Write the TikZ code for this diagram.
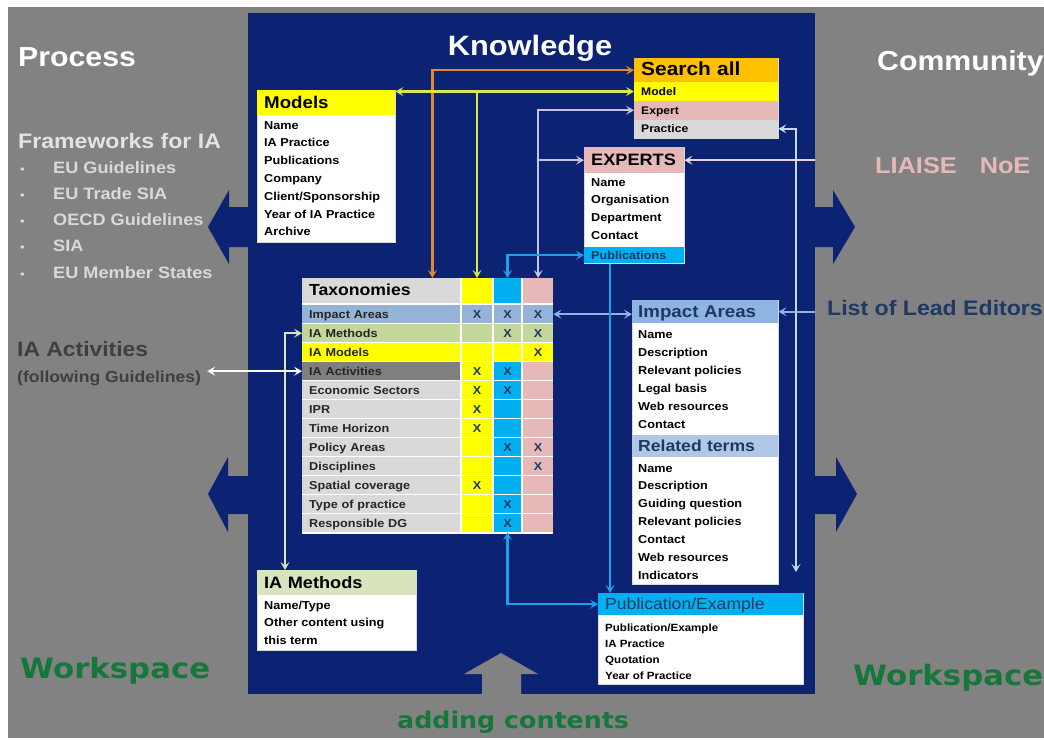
\documentclass[tikz,border=0pt]{standalone}
\usepackage{fontspec}
\setmainfont{Liberation Sans}[FakeStretch=1.1]
\newfontfamily\wsfont{DejaVu Sans}[FakeStretch=1.1]
\usetikzlibrary{positioning}
\usetikzlibrary{calc}
\usetikzlibrary{arrows.meta}

\definecolor{navy}{HTML}{0C2272}
\definecolor{bggrey}{HTML}{828282}
\definecolor{wsgreen}{HTML}{17773A}
\definecolor{hdyellow}{HTML}{FFFF00}
\definecolor{hdorange}{HTML}{FFC000}
\definecolor{hdpink}{HTML}{E6B9B8}
\definecolor{hdgrey}{HTML}{D9D9D9}
\definecolor{hdcyan}{HTML}{00B0F0}
\definecolor{hdblue}{HTML}{8DB4E2}
\definecolor{hdlblue}{HTML}{B0C7E6}
\definecolor{taxblue}{HTML}{95B3D7}
\definecolor{taxgreen}{HTML}{C4D79B}
\definecolor{methgreen}{HTML}{D7E4BD}
\definecolor{actgrey}{HTML}{7F7F7F}
\definecolor{lineorange}{HTML}{E0892E}
\definecolor{lineyellow}{HTML}{D8E84C}
\definecolor{linelav}{HTML}{C9C0E3}
\definecolor{linecyan}{HTML}{1CA0E8}
\definecolor{linelight}{HTML}{C6D9F1}
\definecolor{lineblue}{HTML}{8EB4E3}
\definecolor{linegreen}{HTML}{D7E4BD}
\definecolor{linepink}{HTML}{E8D2E0}
\definecolor{textnavy}{HTML}{1F3864}
\definecolor{fwgrey}{HTML}{E3E3E3}
\definecolor{bulgrey}{HTML}{D9D9D9}
\definecolor{actdark}{HTML}{3F3F3F}

\newcommand{\fsz}[1]{\fontsize{#1}{#1}\selectfont}

\begin{document}
\begin{tikzpicture}[x=1pt, y=-1pt,
            >={Stealth[length=8pt,width=9pt,inset=3.5pt]},
            link/.style={line width=2.2pt},
            box/.style={anchor=north west, fill=white, draw=hdgrey, line width=0.6pt, inner sep=0pt},
            head/.style={anchor=north west, inner xsep=7pt, inner ysep=0pt, align=left,
                         text height=11pt, text depth=0pt, font=\bfseries\fsz{17}},
            row/.style={anchor=north west, inner xsep=7pt, inner ysep=0pt, align=left,
                        text width=130pt, minimum height=18.7pt, text height=8pt, text depth=0pt,
                        font=\bfseries\fsz{11.5}},
            item/.style={anchor=west, inner sep=0pt, text height=8pt, text depth=0pt,
                         font=\bfseries\fsz{11.5}},
            taxlab/.style={anchor=north west, inner xsep=7pt, inner ysep=0pt, align=left,
                           text width=144pt, minimum height=17.6pt, text height=8pt, text depth=0pt,
                           font=\bfseries\fsz{11.5}, text=black!85},
            cell/.style={anchor=north west, inner sep=0pt, minimum height=17.6pt,
                         text height=8pt, text depth=0pt, font=\bfseries\fsz{11.5}, text=textnavy},
            side/.style={anchor=base west, inner sep=0pt, font=\bfseries}]

\useasboundingbox (0,0) rectangle (1044,740);
\fill[white] (0,0) rectangle (1044,740);
\fill[bggrey] (8,7) rectangle (1044,738);

% knowledge panel with its four side arrows
\node (know) [fill=navy, anchor=north west, inner sep=0pt, minimum width=567pt, minimum height=681pt] at (248,13) {};
\fill[navy] (249,207) -- (229,207) -- (229,190) -- (208,227) -- (229,264) -- (229,247) -- (249,247) -- cycle;
\fill[navy] (814,207) -- (833,207) -- (833,190) -- (855,227) -- (833,264) -- (833,247) -- (814,247) -- cycle;
\fill[navy] (249,476) -- (228,476) -- (228,457) -- (208,494) -- (228,532) -- (228,514) -- (249,514) -- cycle;
\fill[navy] (814,476) -- (836,476) -- (836,457) -- (857,494) -- (836,532) -- (836,514) -- (814,514) -- cycle;
\fill[bggrey] (482,695) -- (482,674) -- (464,674) -- (501,653) -- (538,674) -- (521,674) -- (521,695) -- cycle;

\node (knowledge) [side, anchor=base, text=white, font=\bfseries\fsz{28}] at (530,55) {Knowledge};

% left side
\node (process) [side, text=white, font=\bfseries\fsz{27.5}] at (18,66) {Process};
\node (frame) [side, text=fwgrey, font=\bfseries\fsz{21}] at (18,148) {Frameworks for IA};
\foreach \t [count=\i] in {EU Guidelines,EU Trade SIA,OECD Guidelines,SIA,EU Member States}{
  \node (dot-\i) [side, text=bulgrey, font=\fsz{12}] at (20,{173+(\i-1)*26.3}) {\textbullet};
  \node (frame-\i) [side, text=bulgrey, font=\bfseries\fsz{16.5}] at (53,{173+(\i-1)*26.3}) {\t};
}
\node (activ) [side, text=actdark, font=\bfseries\fsz{20.8}] at (17,356) {IA Activities};
\node (follow) [side, text=actdark, font=\bfseries\fsz{16}] at (17,382) {(following Guidelines)};
\node (ws-left) [side, text=wsgreen, font=\wsfont\bfseries\fsz{28}] at (20,678) {Workspace};

% right side
\node (community) [side, text=white, font=\bfseries\fsz{27.5}] at (877,70) {Community};
\node (liaise) [side, text=hdpink, font=\bfseries\fsz{23}] at (875,173) {LIAISE\hspace{1em}NoE};
\node (editors) [side, text=textnavy, font=\bfseries\fsz{21}] at (827,315.5) {List of Lead Editors};
\node (ws-right) [side, text=wsgreen, font=\wsfont\bfseries\fsz{28}] at (853,685) {Workspace};
\node (adding) [side, text=wsgreen, font=\wsfont\bfseries\fsz{23}] at (397,728) {adding contents};

% models
\node (models) [box, minimum width=138pt, minimum height=152pt] at (257,90) {};
\node (models-h) [head, fill=hdyellow, text width=124pt, minimum height=25pt] at (models.north west) {Models};
\foreach \t [count=\i] in {Name,IA Practice,Publications,Company,{Client/Sponsorship},Year of IA Practice,Archive}
  \node (models-\i) [item] at (264,{125+(\i-1)*17.8}) {\t};

% search all
\node (search) [box, minimum width=144pt, minimum height=80pt] at (634,58) {};
\node (search-h) [head, fill=hdorange, text width=130pt, minimum height=24pt, font=\bfseries\fsz{19}] at (search.north west) {Search all};
\node (search-m) [row, fill=hdyellow, font=\bfseries\fsz{11}] at (634,82) {Model};
\node (search-e) [row, fill=hdpink, font=\bfseries\fsz{11}] at (634,100.7) {Expert};
\node (search-p) [row, fill=hdgrey, font=\bfseries\fsz{11}] at (634,119.3) {Practice};

% experts
\node (experts) [box, minimum width=100pt, minimum height=116pt] at (584,147) {};
\node (experts-h) [head, fill=hdpink, text width=86pt, minimum height=26pt, font=\bfseries\fsz{16.5}] at (experts.north west) {EXPERTS};
\foreach \t [count=\i] in {Name,Organisation,Department,Contact}
  \node (experts-\i) [item] at (591,{182+(\i-1)*17.7}) {\t};
\node (experts-5) [row, fill=hdcyan, text width=86pt, minimum height=16pt, text=textnavy] at (584,247) {Publications};

% taxonomies
\node (taxo) [anchor=north west, fill=white, inner sep=0pt, minimum width=251pt, minimum height=255.5pt] at (302,278) {};
\node (taxo-h) [head, fill=hdgrey, text width=144pt, minimum height=24.5pt, font=\bfseries\fsz{16}] at (302,278) {Taxonomies};
\node (taxo-y) [cell, fill=hdyellow, minimum width=30pt, minimum height=24.5pt] at (461.8,278) {};
\node (taxo-c) [cell, fill=hdcyan, minimum width=27.5pt, minimum height=24.5pt] at (493.6,278) {};
\node (taxo-p) [cell, fill=hdpink, minimum width=30.1pt, minimum height=24.5pt] at (522.9,278) {};
\foreach \lab/\lc/\cy/\cc/\cp/\my/\mc/\mp [count=\i] in {
    Impact Areas/taxblue/taxblue/taxblue/taxblue/X/X/X,
    IA Methods/taxgreen/taxgreen/taxgreen/taxgreen/{}/X/X,
    IA Models/hdyellow/hdyellow/hdyellow/hdyellow/{}/{}/X,
    IA Activities/actgrey/hdyellow/hdcyan/hdpink/X/X/{},
    Economic Sectors/hdgrey/hdyellow/hdcyan/hdpink/X/X/{},
    IPR/hdgrey/hdyellow/hdcyan/hdpink/X/{}/{},
    Time Horizon/hdgrey/hdyellow/hdcyan/hdpink/X/{}/{},
    Policy Areas/hdgrey/hdyellow/hdcyan/hdpink/{}/X/X,
    Disciplines/hdgrey/hdyellow/hdcyan/hdpink/{}/{}/X,
    Spatial coverage/hdgrey/hdyellow/hdcyan/hdpink/X/{}/{},
    Type of practice/hdgrey/hdyellow/hdcyan/hdpink/{}/X/{},
    Responsible DG/hdgrey/hdyellow/hdcyan/hdpink/{}/X/{}}{
  \pgfmathsetmacro\yt{305.2+(\i-1)*19}
  \node (taxo-\i) [taxlab, fill=\lc] at (302,\yt) {\lab};
  \node (taxo-\i-y) [cell, fill=\cy, minimum width=30pt] at (461.8,\yt) {\my};
  \node (taxo-\i-c) [cell, fill=\cc, minimum width=27.5pt] at (493.6,\yt) {\mc};
  \node (taxo-\i-p) [cell, fill=\cp, minimum width=30.1pt] at (522.9,\yt) {\mp};
}

% impact areas and related terms
\node (impact) [box, minimum width=146pt, minimum height=284pt] at (632,300) {};
\node (impact-h) [head, fill=hdblue, inner xsep=6pt, text width=134pt, minimum height=23pt, text=textnavy] at (impact.north west) {Impact Areas};
\foreach \t [count=\i] in {Name,Description,Relevant policies,Legal basis,Web resources,Contact}
  \node (impact-\i) [item] at (638,{334+(\i-1)*18}) {\t};
\node (related-h) [head, fill=hdlblue, inner xsep=6pt, text width=134pt, minimum height=22pt, font=\bfseries\fsz{16}, text=textnavy] at (632,435) {Related terms};
\foreach \t [count=\i] in {Name,Description,Guiding question,Relevant policies,Contact,Web resources,Indicators}
  \node (related-\i) [item] at (638,{468+(\i-1)*17.9}) {\t};

% ia methods
\node (meth) [box, minimum width=159pt, minimum height=80pt] at (257,570) {};
\node (meth-h) [head, fill=methgreen, text width=145pt, minimum height=25pt, font=\bfseries\fsz{16.5}] at (meth.north west) {IA Methods};
\foreach \t [count=\i] in {{Name/Type},Other content using,this term}
  \node (meth-\i) [item] at (264,{605+(\i-1)*17.5}) {\t};

% publication / example
\node (pub) [box, minimum width=205pt, minimum height=91pt] at (598,593) {};
\node (pub-h) [head, fill=hdcyan, text width=191pt, minimum height=22pt, font=\fsz{16}, text=textnavy] at (pub.north west) {Publication/Example};
\foreach \t [count=\i] in {{Publication/Example},IA Practice,Quotation,Year of Practice}
  \node (pub-\i) [item, font=\bfseries\fsz{10.5}] at (605,{627+(\i-1)*16}) {\t};

% connectors
\coordinate (prac-end) at (796,572);
\draw[link, <->, color=lineorange] (search-h.west) -| ([xshift=-28pt]taxo-h.north east);
\draw[link, <->, color=lineyellow] (models-h.east |- search-m.west) -- (search-m.west);
\draw[link, ->, color=lineyellow] (search-m.west -| taxo-y.north) -- (taxo-y.north);
\draw[link, <->, color=linelav] (search-e.west) -| (taxo-p.north);
\draw[link, ->, color=linelav] (experts-h.west -| taxo-p.north) -- (experts-h.west);
\draw[link, ->, color=linepink] (experts-h.east -| know.east) -- (experts-h.east);
\draw[link, <->, color=linelight] (search-p.east) -| (prac-end);
\draw[link, ->, color=lineblue] (impact-h.east -| know.east) -- (impact-h.east);
\draw[link, <->, color=lineblue] (taxo-1-p.east) -- (taxo-1-p.east -| impact.west);
\draw[link, <->, color=linecyan] (experts-5.west) -| (taxo-c.north);
\draw[link, ->, color=linecyan] ([xshift=26pt]experts.south west) -- ([xshift=26pt]experts.south west |- pub.north);
\draw[link, <->, color=linecyan] (taxo-12-c.south) |- (pub-h.west);
\draw[link, <->, color=linegreen] (taxo-2.west) -| ([xshift=28pt]meth.north west);
\draw[link, <->, color=white] (taxo-4.west) -- ([xshift=6pt]follow.east |- taxo-4.west);
\end{tikzpicture}
\end{document}
